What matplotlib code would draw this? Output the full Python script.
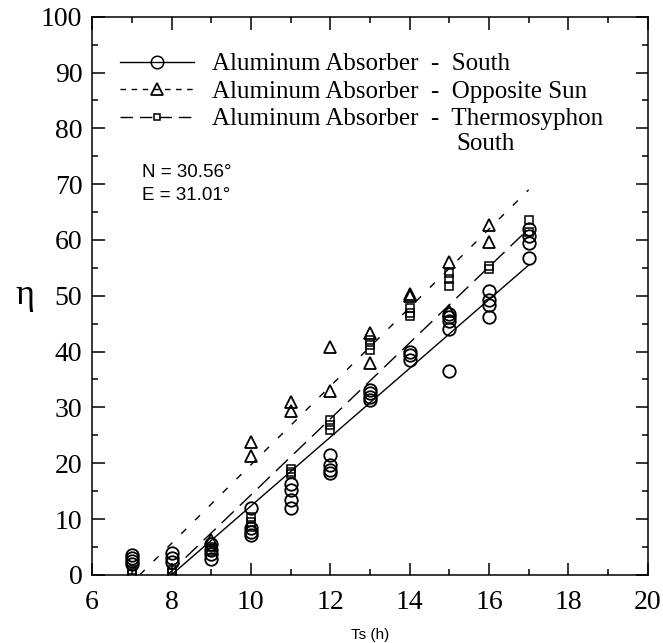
import matplotlib
matplotlib.use("Agg")
import matplotlib.pyplot as plt
from matplotlib.lines import Line2D
from matplotlib.ticker import MultipleLocator

# Data (Ts in hours, efficiency eta)
south_x = [7, 7, 7, 7, 8, 8, 8, 9, 9, 9, 9,
           10, 10, 10, 10, 11, 11, 11, 11, 12, 12, 12, 12,
           13, 13, 13, 13, 14, 14, 14, 15, 15, 15, 15, 15,
           16, 16, 16, 16, 17, 17, 17, 17]
south_y = [3.5, 3.0, 2.5, 2.0, 3.9, 3.0, 2.3, 5.5, 4.5, 3.7, 2.8,
           12.0, 8.4, 7.7, 7.2, 16.3, 15.2, 13.4, 12.0, 21.5, 19.7, 18.8, 18.3,
           33.2, 32.6, 31.9, 31.4, 40.0, 39.4, 38.5, 46.8, 46.2, 45.5, 44.0, 36.5,
           50.8, 49.3, 48.4, 46.2, 62.0, 60.8, 59.4, 56.7]

opp_x = [9, 10, 10, 11, 11, 12, 12, 13, 13, 14, 14, 15, 15, 16, 16]
opp_y = [6.2, 23.8, 21.3, 31.0, 29.3, 40.9, 33.0, 43.3, 38.0, 50.4, 50.0,
         56.0, 47.2, 62.7, 59.6]

thermo_x = [7, 7, 8, 8, 9, 9, 10, 10, 10, 11, 11, 11, 12, 12, 12,
            13, 13, 13, 14, 14, 14, 15, 15, 15, 16, 16, 17, 17]
thermo_y = [0.9, 0.4, 0.9, 0.3, 4.2, 5.0, 10.4, 9.5, 8.6, 18.9, 18.4, 18.0,
            27.7, 26.8, 26.0, 42.1, 41.2, 40.3, 47.8, 47.0, 46.3, 54.0, 53.0, 51.8,
            55.3, 54.8, 63.6, 61.5]

# fitted lines (end points)
south_fit_x = [8.0, 17.0]
south_fit_y = [0.0, 55.5]
opp_fit_x = [7.2, 17.0]
opp_fit_y = [0.0, 69.0]
thermo_fit_x = [7.9, 17.0]
thermo_fit_y = [0.0, 62.0]

labels = ["Aluminum Absorber  -  South",
          "Aluminum Absorber  -  Opposite Sun",
          "Aluminum Absorber  -  Thermosyphon"]

serif = "Liberation Serif"
sans = "Liberation Sans"

fig = plt.figure(figsize=(6.63, 6.43), dpi=100)
ax = fig.add_axes([0.139, 0.106, 0.838, 0.868])

short_dash = (0, (5, 9))
long_dash = (0, (12, 6))

ax.plot(south_fit_x, south_fit_y, color="black", lw=1.0, linestyle="-")
ax.plot(opp_fit_x, opp_fit_y, color="black", lw=1.0, linestyle=short_dash)
ax.plot(thermo_fit_x, thermo_fit_y, color="black", lw=1.0, linestyle=long_dash)

ax.plot(south_x, south_y, "o", ms=9, mfc="none", mec="black", mew=1.3)
ax.plot(opp_x, opp_y, "^", ms=9, mfc="none", mec="black", mew=1.3)
ax.plot(thermo_x, thermo_y, "s", ms=6, mfc="none", mec="black", mew=1.1)

ax.set_xlim(6, 20)
ax.set_ylim(0, 100)
ax.xaxis.set_major_locator(MultipleLocator(2))
ax.xaxis.set_minor_locator(MultipleLocator(1))
ax.yaxis.set_major_locator(MultipleLocator(10))
ax.yaxis.set_minor_locator(MultipleLocator(5))
ax.tick_params(which="both", direction="in", top=True, right=True, width=1.1)
ax.tick_params(which="major", length=9, labelsize=20, pad=7)
ax.tick_params(axis="x", which="major", pad=11)
ax.tick_params(which="minor", length=4.5)
for lab in ax.get_xticklabels() + ax.get_yticklabels():
    lab.set_family(serif)
for sp in ax.spines.values():
    sp.set_linewidth(1.1)

ax.set_xlabel("Ts (h)", family=sans, fontsize=11, labelpad=9)
ax.set_ylabel("η", family=serif, fontsize=26, rotation=0, labelpad=12, va="center")

handles = [
    Line2D([], [], color="black", lw=1.0, linestyle="-", marker="o", ms=9,
           mfc="none", mec="black", mew=1.1),
    Line2D([], [], color="black", lw=1.0, linestyle=(0, (4, 4)), marker="^", ms=8,
           mfc="none", mec="black", mew=1.3),
    Line2D([], [], color="black", lw=1.0, linestyle=(0, (9, 5)), marker="s", ms=5,
           mfc="none", mec="black", mew=1.1),
]
leg = ax.legend(handles, labels, loc="upper left", bbox_to_anchor=(0.032, 0.953),
                frameon=False, prop={"family": serif, "size": 18},
                handlelength=2.95, handletextpad=0.75, labelspacing=0.2,
                borderaxespad=0)
ax.text(0.656, 0.772, "South", transform=ax.transAxes, family=serif, fontsize=18,
        va="center", ha="left")

ax.text(0.09, 0.72, "N = 30.56°", transform=ax.transAxes, family=sans,
        fontsize=13.5, va="center")
ax.text(0.09, 0.68, "E = 31.01°", transform=ax.transAxes, family=sans,
        fontsize=13.5, va="center")

fig.savefig("out.png", dpi=100)
